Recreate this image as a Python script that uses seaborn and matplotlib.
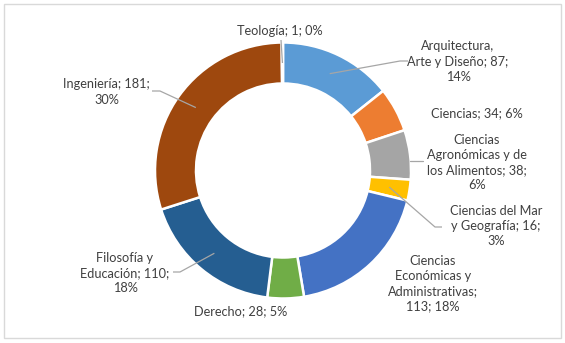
import numpy as np
import matplotlib
matplotlib.use("Agg")
import matplotlib.pyplot as plt
import seaborn as sns
from matplotlib.patches import Rectangle

# Faculties (line breaks follow the label layout), student counts and shown percentages
categories = [
    "Arquitectura,\nArte y Diseño",
    "Ciencias",
    "Ciencias\nAgronómicas y de\nlos Alimentos",
    "Ciencias del Mar\ny Geografía",
    "Ciencias\nEconómicas y\nAdministrativas",
    "Derecho",
    "Filosofía y\nEducación",
    "Ingeniería",
    "Teología",
]
counts = [87, 34, 38, 16, 113, 28, 110, 181, 1]
percents = [14, 6, 6, 3, 18, 5, 18, 30, 0]

# separator after the name and after the count in each label
sep_name = [" ", " ", " ", " ", "\n", " ", " ", " ", " "]
sep_count = ["\n", " ", "\n", "\n", " ", " ", "\n", "\n", " "]

colors = ["#5B9BD5", "#ED7D31", "#A5A5A5", "#FFC000", "#4472C4",
          "#70AD47", "#255E91", "#9E480E", "#636363"]

sns.set_theme(style="white")
plt.rcParams["font.family"] = ["Lato", "DejaVu Sans"]
palette = sns.color_palette(colors)

W, H = 565, 343
fig = plt.figure(figsize=(W / 100, H / 100), dpi=100)
ax = fig.add_axes([0, 0, 1, 1])

cx, cy = 283, H - 170.5
R, ring = 128, 41
wedges, _ = ax.pie(
    counts, colors=palette, startangle=90, counterclock=False,
    radius=R, center=(cx, cy),
    wedgeprops=dict(width=ring, edgecolor="white", linewidth=1.8),
)
ax.set_xlim(0, W)
ax.set_ylim(0, H)
ax.set_aspect("equal")
ax.axis("off")

# chart frame
ax.add_patch(Rectangle((3.5, H - 337.5), 557.5, 334, fill=False,
                       edgecolor="#D9D9D9", linewidth=1.0))

# label centres (x, y from top)
label_pos = [(458, 61.7), (477, 113), (477, 162.5), (496, 226),
             (433, 283.5), (241, 311.5), (125, 273), (106.7, 92), (280, 31)]

txt_color = "#404040"
for i, (name, n, p) in enumerate(zip(categories, counts, percents)):
    text = f"{name};{sep_name[i]}{n};{sep_count[i]}{p}%"
    x, y = label_pos[i]
    ax.text(x, H - y, text, ha="center", va="center", multialignment="center",
            fontsize=9.2, color=txt_color, linespacing=1.32)

# leader lines: label-side points (x, y from top); slice end taken from the wedge
leaders = {
    0: [(408, 61), (400, 61)],
    3: [(442, 227), (435, 227)],
    6: [(173, 272), (180, 272)],
    7: [(152, 91), (160, 91)],
    8: [(281, 40)],
}
r_mid = R - ring / 2
line_color = "#A6A6A6"
for i, pts in leaders.items():
    w = wedges[i]
    ang = np.deg2rad((w.theta1 + w.theta2) / 2)
    end = (cx + r_mid * np.cos(ang), cy + r_mid * np.sin(ang))
    xs = [p[0] for p in pts] + [end[0]]
    ys = [H - p[1] for p in pts] + [end[1]]
    ax.plot(xs, ys, color=line_color, linewidth=0.9, solid_capstyle="butt")

# short horizontal leader from the outer edge of the grey slice
ly = H - 161
dx = np.sqrt(R ** 2 - (ly - cy) ** 2)
ax.plot([cx + dx - 1, 423], [ly, ly], color=line_color, linewidth=0.9)

fig.savefig("out.png", dpi=100, facecolor="white")
